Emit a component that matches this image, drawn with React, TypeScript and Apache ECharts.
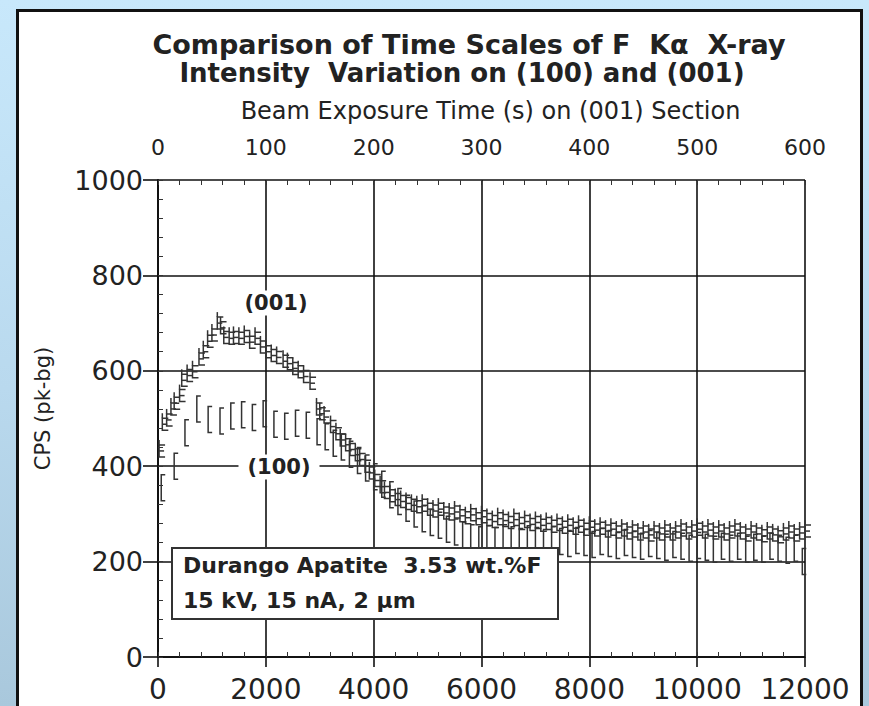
import React, { useEffect, useRef } from "react";
import * as echarts from "echarts";

// ---- data ----
// (001) section: beam exposure time (s, top axis) and CPS (pk-bg)
const T001 = [1, 4, 8, 12, 15, 20, 22, 27, 32, 38, 42, 46, 50, 55, 58, 61, 66, 70, 75, 80, 85, 90, 95, 100, 105, 110, 116, 120, 125, 130, 135, 141, 147, 150, 154, 160, 165, 169, 174, 178, 183, 187, 192, 196, 201, 206,
  210, 215, 220, 225, 230, 235, 240, 245, 250, 255, 260, 265, 270, 275, 280, 285, 290, 295, 300, 305, 310, 315, 320, 325, 330, 335, 340, 345, 350, 355, 360, 365, 370, 375, 380, 385, 390, 395, 400, 405, 410, 415, 420, 425, 430, 435, 440, 445, 450, 455, 460, 465, 470, 475, 480, 485, 490, 495, 500, 505, 510, 515, 520, 525, 530, 535, 540, 545, 550, 555, 560, 565, 570, 575, 580, 585, 590, 595, 600];
const V001 = [432, 488, 497, 520, 532, 548, 580, 590, 598, 625, 640, 662, 675, 700, 690, 670, 668, 670, 668, 672, 660, 668, 650, 640, 632, 628, 620, 615, 605, 598, 588, 574, 520, 510, 503, 483, 468, 455, 445, 435, 424, 414, 400, 386, 370, 357,
  345, 338, 330, 326, 322, 318, 315, 318, 310, 306, 310, 302, 300, 304, 296, 292, 298, 290, 294, 288, 284, 290, 286, 282, 288, 280, 284, 278, 282, 276, 280, 274, 278, 272, 276, 270, 274, 268, 272, 266, 270, 264, 268, 262, 266, 260, 264, 258, 262, 256, 262, 258, 264, 258, 262, 266, 260, 264, 268, 262, 266, 260, 264, 258, 262, 266, 260, 256, 262, 258, 254, 260, 256, 252, 258, 262, 256, 260, 264];

// (100) section: beam exposure time (s, bottom axis) and CPS (pk-bg)
const X100 = [60, 300, 500, 720, 930, 1150, 1350, 1550, 1750, 1950, 2150, 2350, 2550, 2750, 2950, 3100, 3250, 3400, 3550, 3700, 3850, 4000, 4150, 4300, 4450, 4600, 4750, 4900, 5050, 5200, 5350, 5500, 5650, 5800, 5950, 6100, 6250, 6400, 6550, 6700, 6850, 7000, 7150, 7300, 7450, 7600, 7750, 7900, 8050, 8200, 8350, 8500, 8650, 8800, 8950, 9100, 9250, 9400, 9550, 9700, 9850, 10000, 10150, 10300, 10450, 10600, 10750, 10900, 11050, 11200, 11350, 11500, 11650, 11800, 11950];
const V100 = [355, 400, 470, 520, 498, 495, 505, 508, 502, 510, 488, 484, 490, 486, 472, 462, 448, 440, 425, 412, 396, 378, 362, 340, 326, 312, 300, 290, 282, 276, 268, 262, 256, 250, 246, 248, 244, 250, 246, 242, 248, 244, 240, 246, 242, 238, 244, 240, 236, 242, 238, 234, 240, 236, 232, 238, 234, 230, 236, 232, 228, 234, 230, 226, 232, 228, 232, 226, 230, 226, 232, 228, 224, 228, 200];

const BOTTOM_TICKS = [0, 2000, 4000, 6000, 8000, 10000, 12000];
const TOP_TICKS = [0, 100, 200, 300, 400, 500, 600];
const Y_TICKS = [0, 200, 400, 600, 800, 1000];

const TITLE_1 = "Comparison of Time Scales of F  K\u03b1  X-ray";
const TITLE_2 = "Intensity  Variation on (100) and (001)";
const TOP_NAME = "Beam Exposure Time (s) on (001) Section";
const Y_NAME = "CPS (pk-bg)";
const LABEL_001 = "(001)";
const LABEL_100 = "(100)";
const BOX_1 = "Durango Apatite  3.53 wt.%F";
const BOX_2 = "15 kV, 15 nA, 2 \u03bcm";

const FONT = '"DejaVu Sans", "Liberation Sans", sans-serif';
const INK = "#222";
const SYM = "#333";

export default function App() {
  const ref = useRef<HTMLDivElement>(null);

  useEffect(() => {
    if (!ref.current) return;
    const chart = echarts.init(ref.current, null, { renderer: "svg" });

    const symStyle = { stroke: SYM, lineWidth: 1.5, fill: "none" };

    const renderE = (params: any, api: any) => {
      const p = api.coord([api.value(0), api.value(1)]);
      const x = p[0], y = p[1];
      const h = 6, w = 6, stub = 5;
      return {
        type: "group",
        children: [
          { type: "polyline", shape: { points: [[x + w, y - h], [x, y - h], [x, y + h], [x + w, y + h]] }, style: symStyle },
          { type: "line", shape: { x1: x, y1: y, x2: x + w - 1, y2: y }, style: symStyle },
          { type: "line", shape: { x1: x, y1: y - h - stub, x2: x, y2: y - h }, style: symStyle },
        ],
      };
    };

    const renderBracket = (params: any, api: any) => {
      const p = api.coord([api.value(0), api.value(1)]);
      const x = p[0], y = p[1];
      const h = 13, w = 4;
      return {
        type: "polyline",
        shape: { points: [[x + w, y - h], [x, y - h], [x, y + h], [x + w, y + h]] },
        style: symStyle,
      };
    };

    const lineStyle = { color: "#111", width: 1.6 };

    const option: any = {
      animation: false,
      backgroundColor: "transparent",
      grid: { left: 158, top: 180, width: 647, height: 477, containLabel: false },
      xAxis: [
        {
          type: "value", position: "bottom", min: 0, max: 12000, interval: 2000,
          axisLine: { show: true, lineStyle },
          axisTick: { show: true, inside: false, length: 10, lineStyle },
          axisLabel: {
            fontSize: 28, color: INK, fontFamily: FONT, margin: 18,
            formatter: (v: number) => (BOTTOM_TICKS.includes(v) ? String(v) : ""),
          },
          splitLine: { show: true, lineStyle },
        },
        {
          type: "value", position: "top", min: 0, max: 600, interval: 100,
          name: TOP_NAME, nameLocation: "middle", nameGap: 57,
          nameTextStyle: { fontSize: 24, color: INK, fontFamily: FONT, padding: [0, 0, 0, 18] },
          axisLine: { show: true, lineStyle },
          axisTick: { show: false },
          axisLabel: {
            fontSize: 22, color: INK, fontFamily: FONT, margin: 22,
            formatter: (v: number) => (TOP_TICKS.includes(v) ? String(v) : ""),
          },
          splitLine: { show: false },
        },
        {
          type: "value", position: "bottom", min: 0, max: 12000, interval: 2000,
          axisLine: { show: false }, axisLabel: { show: false }, splitLine: { show: false },
          axisTick: { show: true, inside: true, length: 5, lineStyle: { color: "#333", width: 1 } },
          minorTick: { show: true, splitNumber: 5, length: 5, lineStyle: { color: "#333", width: 1 } },
        },
        {
          type: "value", position: "top", min: 0, max: 600, interval: 100,
          axisLine: { show: false }, axisLabel: { show: false }, splitLine: { show: false },
          axisTick: { show: true, inside: true, length: 5, lineStyle: { color: "#333", width: 1 } },
          minorTick: { show: true, splitNumber: 5, length: 5, lineStyle: { color: "#333", width: 1 } },
        },
      ],
      yAxis: [
        {
          type: "value", position: "left", min: 0, max: 1000, interval: 200,
          name: Y_NAME, nameLocation: "middle", nameGap: 105, nameRotate: 90,
          nameTextStyle: { fontSize: 21, color: INK, fontFamily: FONT, padding: [0, 0, 0, 20] },
          axisLine: { show: true, lineStyle: { color: "#111", width: 2 } },
          axisTick: { show: true, inside: false, length: 15, lineStyle },
          axisLabel: {
            fontSize: 27, color: INK, fontFamily: FONT, margin: 15,
            formatter: (v: number) => (Y_TICKS.includes(v) ? String(v) : ""),
          },
          splitLine: { show: true, lineStyle },
        },
        {
          type: "value", position: "left", min: 0, max: 1000, interval: 200,
          axisLine: { show: false }, axisLabel: { show: false }, splitLine: { show: false },
          axisTick: { show: true, inside: true, length: 5, lineStyle: { color: "#333", width: 1 } },
          minorTick: { show: true, splitNumber: 5, length: 5, lineStyle: { color: "#333", width: 1 } },
        },
      ],
      series: [
        {
          type: "custom", name: "(100)", xAxisIndex: 0, yAxisIndex: 0,
          data: X100.map((x, i) => [x, V100[i]]),
          encode: { x: 0, y: 1 }, renderItem: renderBracket, clip: false, z: 3,
        },
        {
          type: "custom", name: "(001)", xAxisIndex: 1, yAxisIndex: 0,
          data: T001.map((t, i) => [t, V001[i]]),
          encode: { x: 0, y: 1 }, renderItem: renderE, clip: false, z: 4,
        },
      ],
      graphic: [
        {
          type: "text", x: 469, y: 44, z: 100,
          style: { text: TITLE_1, align: "center", verticalAlign: "middle", fontSize: 27, fontWeight: "bold", fontFamily: FONT, fill: INK },
        },
        {
          type: "text", x: 462, y: 73, z: 100,
          style: { text: TITLE_2, align: "center", verticalAlign: "middle", fontSize: 26, fontWeight: "bold", fontFamily: FONT, fill: INK },
        },
        {
          type: "text", x: 276, y: 303, z: 100,
          style: { text: LABEL_001, align: "center", verticalAlign: "middle", fontSize: 21, fontWeight: "bold", fontFamily: FONT, fill: INK, backgroundColor: "#fff", padding: [2, 6] },
        },
        {
          type: "text", x: 279, y: 467, z: 100,
          style: { text: LABEL_100, align: "center", verticalAlign: "middle", fontSize: 21, fontWeight: "bold", fontFamily: FONT, fill: INK, backgroundColor: "#fff", padding: [2, 9] },
        },
        {
          type: "rect", z: 100,
          shape: { x: 172, y: 548, width: 386, height: 71 },
          style: { fill: "#fff", stroke: "#333", lineWidth: 2 },
        },
        {
          type: "text", x: 183, y: 565, z: 101,
          style: { text: BOX_1, align: "left", verticalAlign: "middle", fontSize: 22, fontWeight: "bold", fontFamily: FONT, fill: INK },
        },
        {
          type: "text", x: 183, y: 600, z: 101,
          style: { text: BOX_2, align: "left", verticalAlign: "middle", fontSize: 22, fontWeight: "bold", fontFamily: FONT, fill: INK },
        },
      ],
    };

    chart.setOption(option);
    return () => chart.dispose();
  }, []);

  return (
    <div style={{ position: "absolute", left: 0, top: 0, width: 869, height: 706, overflow: "hidden", background: "linear-gradient(180deg, #c8e8fb 0%, #b9d9ee 55%, #a9c8dc 100%)" }}>
      <div style={{ position: "absolute", left: 16, top: 9, width: 847, height: 720, boxSizing: "border-box", background: "#fff", border: "3px solid #111" }} />
      <div ref={ref} style={{ position: "absolute", left: 0, top: 0, width: 869, height: 706 }} />
    </div>
  );
}
